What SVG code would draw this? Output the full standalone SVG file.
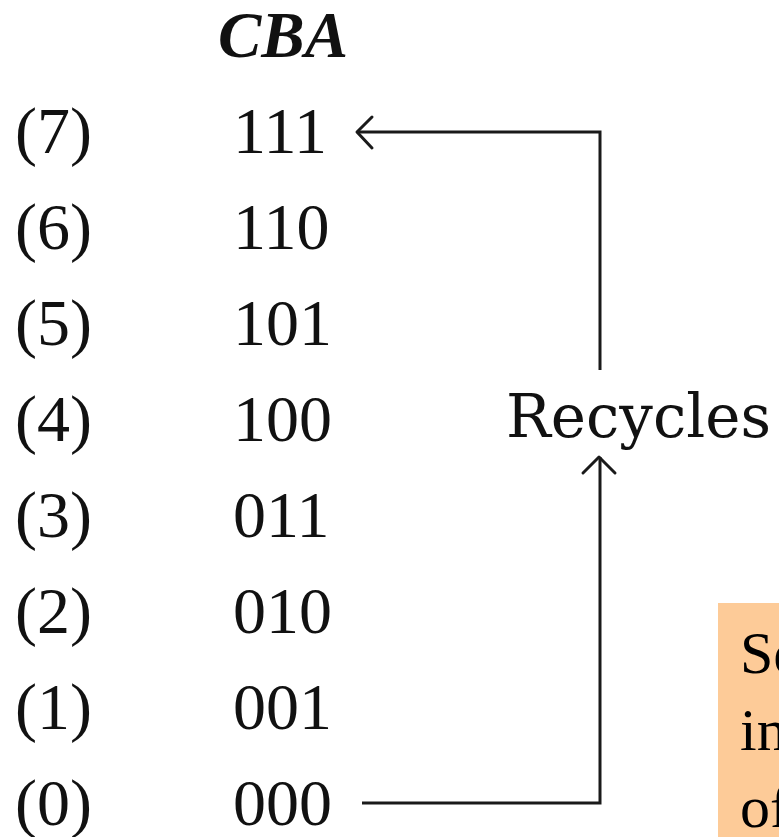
<svg xmlns="http://www.w3.org/2000/svg" width="779" height="837" viewBox="0 0 779 837">
  <style>
    .t { font-family: "Liberation Serif", "Times New Roman", serif; font-size: 66px; fill: #111; }
    .hdr { font-family: "Liberation Serif", "Times New Roman", serif; font-size: 65px; font-weight: bold; font-style: italic; fill: #111; }
    .rec { font-family: "DejaVu Serif", "Liberation Serif", serif; font-size: 59.5px; fill: #111; }
    .note { font-family: "Liberation Serif", "Times New Roman", serif; font-size: 60px; fill: #000; }
    .wire { fill: none; stroke: #1a1a1a; stroke-width: 3; }
    .head { fill: none; stroke: #1a1a1a; stroke-width: 3; stroke-linecap: round; stroke-linejoin: round; }
  </style>
  <rect width="779" height="837" fill="#ffffff"/>

  <g id="header"><text class="hdr" x="218" y="57">CBA</text></g>

  <g id="row7"><text class="t" x="15" y="153">(7)</text><text class="t" x="233" y="153">111</text></g>
  <g id="row6"><text class="t" x="15" y="249">(6)</text><text class="t" x="233" y="249">110</text></g>
  <g id="row5"><text class="t" x="15" y="345">(5)</text><text class="t" x="233" y="345">101</text></g>
  <g id="row4"><text class="t" x="15" y="441">(4)</text><text class="t" x="233" y="441">100</text></g>
  <g id="row3"><text class="t" x="15" y="537">(3)</text><text class="t" x="233" y="537">011</text></g>
  <g id="row2"><text class="t" x="15" y="633">(2)</text><text class="t" x="233" y="633">010</text></g>
  <g id="row1"><text class="t" x="15" y="729">(1)</text><text class="t" x="233" y="729">001</text></g>
  <g id="row0"><text class="t" x="15" y="825">(0)</text><text class="t" x="233" y="825">000</text></g>

  <g id="recycles"><text class="rec" x="506" y="437">Recycles</text></g>

  <g id="connectors">
    <polyline class="wire" points="600,370 600,132 357,132"/>
    <polyline class="head" points="372,117 357,132 372,148"/>
    <polyline class="wire" points="362,803 600,803 600,457"/>
    <polyline class="head" points="583,473 599,457 615,473"/>
  </g>

  <g id="note">
    <rect x="718" y="603" width="61" height="234" fill="#FDCB98"/>
    <text class="note" x="740" y="673">Se</text>
    <text class="note" x="740" y="750">in</text>
    <text class="note" x="740" y="827">of</text>
  </g>
</svg>
